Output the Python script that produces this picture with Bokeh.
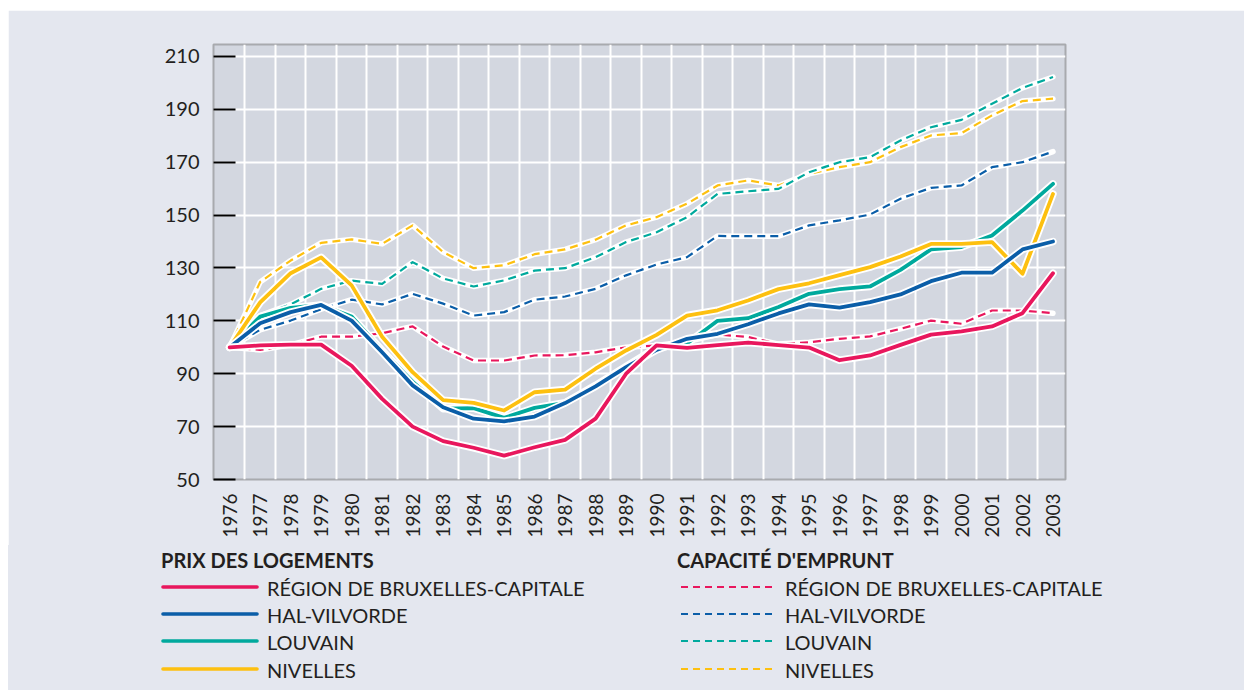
import math
from bokeh.plotting import figure
from bokeh.layouts import column
from bokeh.models import Range1d, FixedTicker, ColumnDataSource, Div
from bokeh.embed import file_html
from bokeh.resources import INLINE

# ---------------- data ----------------
years = list(range(1976, 2004))

prix_bruxelles = [100, 100.7, 101, 101, 93, 80.5, 70, 64.5, 62, 59, 62.2, 65, 73, 90,
                  100.7, 99.8, 100.8, 101.8, 100.8, 99.9, 95.1, 96.9, 100.9, 104.8,
                  106, 107.9, 112.9, 128]
prix_hal = [100, 109.1, 113.3, 116, 110.1, 98.1, 85.6, 77.3, 73, 72, 73.8, 78.9, 85.2,
            92.5, 99, 103.2, 105.1, 108.7, 112.8, 116.2, 115, 117.1, 120, 125, 128.2,
            128.2, 137, 140]
prix_louvain = [100, 111.6, 114.9, 116, 111.6, 98.8, 87, 76.8, 77, 73.3, 77.1, 79, 85.6,
                92.8, 99.8, 101.4, 110, 111, 115.2, 120.2, 122, 123, 129.3, 137, 137.9,
                142.3, 151.7, 161.8]
prix_nivelles = [100, 117, 128, 134, 123.4, 104, 90.6, 80, 79, 76.1, 83, 84, 91.9, 98.8,
                 104.7, 112, 114, 117.7, 122, 124.2, 127.3, 130.3, 134.3, 139.1, 139.1,
                 139.8, 127.8, 158]

cap_bruxelles = [100, 99, 100.9, 104, 104, 105.3, 107.9, 100.3, 95, 95, 96.9, 97, 98.1,
                 100, 100.7, 102.2, 104.8, 103.9, 101.2, 101.9, 103.2, 104.1, 107, 110.1,
                 108.9, 113.9, 113.9, 112.9]
cap_hal = [100, 106.6, 110.1, 114.4, 118, 116.2, 120.2, 116.5, 112, 113.3, 118, 119.2,
           122.1, 127.2, 131.3, 134.1, 142.1, 142, 142, 146.1, 148, 150.2, 156.2, 160.3,
           161.2, 168.1, 170, 174]
cap_louvain = [100, 112, 116.2, 122.1, 125.2, 124, 132.2, 126, 123, 125.3, 129, 129.9,
               134.1, 139.8, 143.5, 149.2, 158, 159, 159.9, 166.2, 170, 171.9, 178.2,
               183.2, 186, 192.1, 198.1, 202.2]
cap_nivelles = [100, 124.7, 132.8, 139.5, 140.8, 139.1, 146.1, 136, 129.9, 131, 135.2,
                137, 140.7, 146.1, 149.2, 154.3, 161.2, 163.1, 161.2, 165.6, 168.1, 170,
                175.7, 180.1, 181, 187.7, 193.1, 194]

region_labels = ["RÉGION DE BRUXELLES-CAPITALE", "HAL-VILVORDE", "LOUVAIN", "NIVELLES"]
group_titles = ["PRIX DES LOGEMENTS", "CAPACITÉ D'EMPRUNT"]
y_ticks = [50, 70, 90, 110, 130, 150, 170, 190, 210]

# ---------------- style ----------------
colors = ["#e8175d", "#0b5ea8", "#00a99d", "#fdc010"]
OUTER = "#e4e7ef"
INNER = "#d3d7e0"
FONT = "Lato"
TXT = "#231f20"

W = 1236
H1 = 535
H2 = 145

p = figure(width=W, height=H1, output_backend="svg", toolbar_location=None,
           x_range=Range1d(1975.47, 2003.41), y_range=Range1d(50, 214.5),
           min_border_left=205, min_border_right=179, min_border_top=34,
           min_border_bottom=66)
p.background_fill_color = INNER
p.border_fill_color = OUTER
p.outline_line_color = "#a8aaae"
p.outline_line_width = 2
p.margin = 0

# grids
p.xgrid.ticker = FixedTicker(ticks=[y + 0.5 for y in years[:-1]])
p.ygrid.ticker = FixedTicker(ticks=y_ticks)
p.grid.grid_line_color = "white"
p.grid.grid_line_width = 2
p.grid.grid_line_alpha = 1

# axes
p.yaxis.ticker = FixedTicker(ticks=y_ticks)
p.yaxis.axis_line_color = None
p.yaxis.major_tick_in = 22
p.yaxis.major_tick_out = 0
p.yaxis.major_tick_line_color = "black"
p.yaxis.major_tick_line_width = 2
p.yaxis.minor_tick_line_color = None
p.yaxis.major_label_standoff = 14
p.yaxis.major_label_text_font = FONT
p.yaxis.major_label_text_font_size = "20px"
p.yaxis.major_label_text_color = TXT

p.xaxis.ticker = FixedTicker(ticks=years)
p.xaxis.axis_line_color = None
p.xaxis.major_tick_line_color = None
p.xaxis.minor_tick_line_color = None
p.xaxis.major_label_orientation = math.pi / 2
p.xaxis.major_label_standoff = 8
p.xaxis.major_label_text_font = FONT
p.xaxis.major_label_text_font_size = "19px"
p.xaxis.major_label_text_color = TXT

DASH = "8 5"
cap_series = [cap_bruxelles, cap_hal, cap_louvain, cap_nivelles]
prix_series = [prix_bruxelles, prix_hal, prix_louvain, prix_nivelles]

# dashed: borrowing capacity
for i in [3, 2, 1, 0]:
    src = ColumnDataSource(dict(x=years, y=cap_series[i]))
    p.line("x", "y", source=src, line_color="white", line_width=5.5,
           line_join="round", line_cap="round")
    p.line("x", "y", source=src, line_color=colors[i], line_width=2.2,
           line_dash=DASH, line_join="round")

# solid: housing prices
for i in [2, 3, 1, 0]:
    src = ColumnDataSource(dict(x=years, y=prix_series[i]))
    p.line("x", "y", source=src, line_color="white", line_width=7.5,
           line_join="round", line_cap="round")
    p.line("x", "y", source=src, line_color=colors[i], line_width=3.8,
           line_join="round", line_cap="round")

# ---------------- legend (HTML panel below the chart) ----------------
col_x = [153, 669]       # left edge of each legend column
key_len = 96
key_gap = 10
title_y = 15
row_y0 = 42
row_dy = 27.2


def key_svg(x, y, color, dashed):
    if dashed:
        stroke = f'stroke="{color}" stroke-width="2" stroke-dasharray="7 5"'
    else:
        stroke = f'stroke="{color}" stroke-width="3.6" stroke-linecap="round"'
    return (f'<svg style="position:absolute;left:{x}px;top:{y - 5}px" width="{key_len + 4}" '
            f'height="10"><line x1="2" y1="5" x2="{key_len}" y2="5" {stroke}/></svg>')


def text_span(x, y, txt, size, bold=False):
    weight = "bold" if bold else "normal"
    return (f'<span style="position:absolute;left:{x}px;top:{y}px;transform:translateY(-50%);'
            f'font-family:{FONT};font-size:{size}px;font-weight:{weight};color:{TXT};'
            f'line-height:1;white-space:nowrap">{txt}</span>')


parts = []
for c in range(2):
    parts.append(text_span(col_x[c], title_y, group_titles[c], 20, bold=True))
    for i in range(4):
        yy = row_y0 + i * row_dy
        kx = col_x[c] + (0 if c == 0 else 2)
        parts.append(key_svg(kx, yy, colors[i], dashed=(c == 1)))
        parts.append(text_span(kx + key_len + key_gap, yy + 1, region_labels[i], 20))

html = (f'<div style="position:relative;width:{W}px;height:{H2}px;background:{OUTER};'
        f'overflow:hidden">' + "".join(parts) + '</div>')
legend_div = Div(text=html, width=W, height=H2, margin=0,
                 styles={"background-color": OUTER})

layout = column(p, legend_div, spacing=0, margin=(10, 0, 0, 8))
open("out.html", "w").write(file_html(layout, INLINE))
